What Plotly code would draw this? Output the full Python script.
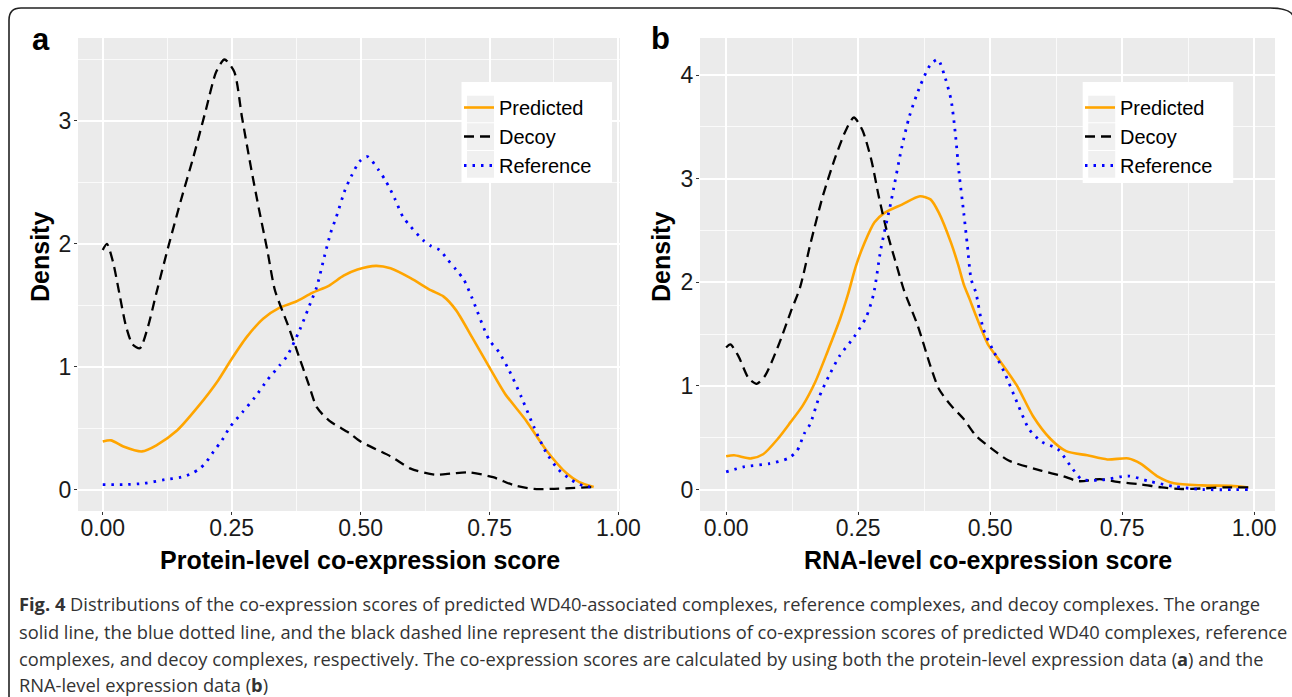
import plotly.graph_objects as go

# ---------------- data ----------------
a_pred_x = [0, 0.016, 0.04, 0.076, 0.104, 0.144, 0.184, 0.224, 0.248, 0.279, 0.311, 0.343, 0.375, 0.406, 0.439,
            0.467, 0.494, 0.53, 0.558, 0.597, 0.637, 0.661, 0.685, 0.716, 0.749, 0.78, 0.821, 0.86, 0.9, 0.924, 0.952]
a_pred_y = [0.39, 0.40, 0.35, 0.31, 0.36, 0.48, 0.67, 0.89, 1.05, 1.24, 1.39, 1.48, 1.53, 1.60, 1.66,
            1.74, 1.79, 1.82, 1.80, 1.72, 1.62, 1.57, 1.46, 1.24, 1.00, 0.78, 0.56, 0.32, 0.13, 0.06, 0.02]

a_decoy_x = [0, 0.008, 0.02, 0.032, 0.045, 0.058, 0.072, 0.088, 0.104, 0.128, 0.152, 0.176, 0.2, 0.22, 0.236,
             0.255, 0.27, 0.287, 0.303, 0.319, 0.334, 0.358, 0.374, 0.399, 0.415, 0.439, 0.478, 0.5, 0.558,
             0.597, 0.645, 0.677, 0.709, 0.757, 0.797, 0.836, 0.87, 0.952]
a_decoy_y = [1.95, 2.00, 1.85, 1.60, 1.33, 1.18, 1.15, 1.33, 1.60, 1.99, 2.36, 2.71, 3.09, 3.40, 3.50,
             3.40, 3.03, 2.63, 2.28, 1.95, 1.62, 1.35, 1.16, 0.86, 0.67, 0.56, 0.46, 0.39, 0.27,
             0.17, 0.12, 0.13, 0.14, 0.10, 0.035, 0.005, 0.005, 0.02]

a_ref_x = [0, 0.04, 0.08, 0.12, 0.152, 0.172, 0.188, 0.2, 0.215, 0.231, 0.247, 0.271, 0.295, 0.319, 0.343,
           0.358, 0.382, 0.403, 0.415, 0.43, 0.442, 0.453, 0.47, 0.482, 0.498, 0.513, 0.535, 0.549, 0.566,
           0.582, 0.597, 0.621, 0.637, 0.653, 0.669, 0.685, 0.7, 0.716, 0.749, 0.768, 0.788, 0.812, 0.836,
           0.86, 0.884, 0.908, 0.932, 0.952]
a_ref_y = [0.04, 0.04, 0.05, 0.08, 0.10, 0.13, 0.17, 0.22, 0.31, 0.40, 0.51, 0.63, 0.75, 0.89, 1.01,
           1.09, 1.30, 1.52, 1.65, 1.90, 2.09, 2.22, 2.44, 2.55, 2.67, 2.71, 2.60, 2.51, 2.37,
           2.22, 2.14, 2.03, 1.98, 1.95, 1.87, 1.79, 1.71, 1.56, 1.22, 1.12, 0.97, 0.75, 0.51,
           0.30, 0.16, 0.08, 0.03, 0.02]

b_pred_x = [0, 0.015, 0.047, 0.07, 0.098, 0.122, 0.145, 0.169, 0.192, 0.216, 0.23, 0.246, 0.262, 0.281, 0.3,
            0.333, 0.367, 0.387, 0.403, 0.426, 0.44, 0.45, 0.461, 0.473, 0.497, 0.52, 0.551, 0.581, 0.614,
            0.644, 0.684, 0.722, 0.762, 0.785, 0.816, 0.848, 0.902, 0.956, 0.989]
b_pred_y = [0.32, 0.33, 0.30, 0.34, 0.49, 0.65, 0.81, 1.04, 1.33, 1.65, 1.87, 2.16, 2.38, 2.58, 2.67,
            2.75, 2.83, 2.80, 2.67, 2.38, 2.16, 1.98, 1.84, 1.68, 1.39, 1.23, 1.00, 0.71, 0.49,
            0.37, 0.33, 0.29, 0.30, 0.25, 0.13, 0.06, 0.04, 0.035, 0.02]

b_decoy_x = [0, 0.008, 0.023, 0.043, 0.058, 0.074, 0.099, 0.122, 0.14, 0.16, 0.183, 0.207, 0.227, 0.242,
             0.258, 0.275, 0.289, 0.305, 0.323, 0.337, 0.363, 0.387, 0.403, 0.426, 0.45, 0.473, 0.504,
             0.535, 0.598, 0.637, 0.668, 0.708, 0.746, 0.785, 0.825, 0.863, 0.9, 0.942, 0.989]
b_decoy_y = [1.37, 1.40, 1.29, 1.07, 1.02, 1.10, 1.39, 1.71, 1.95, 2.38, 2.83, 3.21, 3.47, 3.59,
             3.47, 3.18, 2.83, 2.48, 2.16, 1.92, 1.58, 1.19, 0.97, 0.81, 0.68, 0.52, 0.39,
             0.28, 0.18, 0.13, 0.08, 0.10, 0.07, 0.05, 0.02, 0.005, 0.01, 0.02, 0.02]

b_ref_x = [0, 0.035, 0.082, 0.117, 0.134, 0.148, 0.159, 0.176, 0.195, 0.215, 0.242, 0.265, 0.279, 0.293,
           0.312, 0.333, 0.347, 0.367, 0.387, 0.401, 0.415, 0.426, 0.434, 0.441, 0.45, 0.457, 0.464, 0.473,
           0.487, 0.504, 0.527, 0.551, 0.574, 0.598, 0.628, 0.652, 0.673, 0.708, 0.762, 0.801, 0.848,
           0.902, 0.989]
b_ref_y = [0.17, 0.22, 0.25, 0.30, 0.37, 0.54, 0.63, 0.89, 1.10, 1.29, 1.47, 1.66, 1.88, 2.32,
           2.77, 3.31, 3.60, 3.89, 4.10, 4.15, 3.97, 3.76, 3.44, 3.06, 2.67, 2.35, 2.03, 1.90,
           1.55, 1.36, 1.13, 0.84, 0.58, 0.46, 0.39, 0.23, 0.10, 0.09, 0.13, 0.08, 0.03,
           0.0, 0.0]

series_names = ["Predicted", "Decoy", "Reference"]
x_tickvals = [0, 0.25, 0.5, 0.75, 1.0]
x_ticktext = ["0.00", "0.25", "0.50", "0.75", "1.00"]
a_yticks = [0, 1, 2, 3]
b_yticks = [0, 1, 2, 3, 4]
x_titles = ["Protein-level co-expression score", "RNA-level co-expression score"]
panel_labels = ["a", "b"]
caption_lines = [
    "<b>Fig. 4</b> Distributions of the co-expression scores of predicted WD40-associated complexes, reference complexes, and decoy complexes. The orange",
    "solid line, the blue dotted line, and the black dashed line represent the distributions of co-expression scores of predicted WD40 complexes, reference",
    "complexes, and decoy complexes, respectively. The co-expression scores are calculated by using both the protein-level expression data (<b>a</b>) and the",
    "RNA-level expression data (<b>b</b>)",
]

# ---------------- layout helpers ----------------
W, H = 1292, 697
def px(x):
    return x / W
def py(y):
    return 1 - y / H

styles = [
    dict(color="#FFA500", width=2.6, dash="solid"),
    dict(color="#000000", width=2.3, dash="10px,6px"),
    dict(color="#0000FF", width=2.8, dash="2.5px,6px"),
]

fig = go.Figure()
panels = [
    ([(a_pred_x, a_pred_y), (a_decoy_x, a_decoy_y), (a_ref_x, a_ref_y)], "x", "y", "legend"),
    ([(b_pred_x, b_pred_y), (b_decoy_x, b_decoy_y), (b_ref_x, b_ref_y)], "x2", "y2", "legend2"),
]
for series, xa, ya, lg in panels:
    for (xs, ys), name, st in zip(series, series_names, styles):
        fig.add_trace(go.Scatter(
            x=xs, y=ys, name=name, mode="lines", xaxis=xa, yaxis=ya, legend=lg,
            line=dict(color=st["color"], width=st["width"], dash=st["dash"], shape="spline", smoothing=0.7),
            hoverinfo="skip"))

tick_font = dict(family="Liberation Sans, Arial, sans-serif", size=23, color="#1a1a1a")
minor_x = dict(showgrid=True, gridcolor="#FAFAFA", gridwidth=0.8, tickvals=[0.125, 0.375, 0.625, 0.875])

y_top, y_bot = 38, 511
fig.update_layout(
    width=W, height=H, autosize=False, margin=dict(l=0, r=0, t=0, b=0, autoexpand=False),
    paper_bgcolor="white", plot_bgcolor="#EBEBEB",
    xaxis=dict(domain=[px(78), px(620)], anchor="y", range=[-0.048, 1.003],
               tickvals=x_tickvals, ticktext=x_ticktext, minor=minor_x, ticklabelstandoff=-7),
    yaxis=dict(domain=[py(y_bot), py(y_top)], anchor="x", range=[-0.175, 3.675],
               tickvals=a_yticks, ticktext=[str(v) for v in a_yticks], ticklabelstandoff=-2,
               minor=dict(showgrid=True, gridcolor="#FAFAFA", gridwidth=0.8, tickvals=[0.5, 1.5, 2.5, 3.5])),
    xaxis2=dict(domain=[px(700), px(1275)], anchor="y2", range=[-0.0495, 1.0395],
                tickvals=x_tickvals, ticktext=x_ticktext, minor=minor_x, ticklabelstandoff=-7),
    yaxis2=dict(domain=[py(y_bot), py(y_top)], anchor="x2", range=[-0.2075, 4.3575],
                tickvals=b_yticks, ticktext=[str(v) for v in b_yticks], ticklabelstandoff=-2,
                minor=dict(showgrid=True, gridcolor="#FAFAFA", gridwidth=0.8, tickvals=[0.5, 1.5, 2.5, 3.5])),
    showlegend=True,
)
for ax in ["xaxis", "yaxis", "xaxis2", "yaxis2"]:
    fig.layout[ax].update(
        showgrid=True, gridcolor="#FFFFFF", gridwidth=1.6, zeroline=False, showline=False,
        ticks="outside", ticklen=3, tickwidth=1, tickcolor="#333333", tickfont=tick_font)

leg_font = dict(family="Liberation Sans, Arial, sans-serif", size=20, color="#000000")
for key, lx in [("legend", 459), ("legend2", 1080)]:
    fig.layout[key] = dict(x=px(lx), y=py(88), xanchor="left", yanchor="top",
                           bgcolor="rgba(0,0,0,0)", borderwidth=0, font=leg_font,
                           itemwidth=30, tracegroupgap=0)

shapes = []
# legend boxes and grey key squares
for lx in [461.5, 1082.7]:
    shapes.append(dict(type="rect", xref="paper", yref="paper", x0=px(lx), x1=px(lx + 150.5),
                       y0=py(183), y1=py(82), fillcolor="white", line=dict(width=0), layer="above"))
    for r0, r1 in [(95.7, 122.3), (123.3, 150), (151, 177.7)]:
        shapes.append(dict(type="rect", xref="paper", yref="paper", x0=px(lx + 5.5), x1=px(lx + 32.5),
                           y0=py(r1), y1=py(r0), fillcolor="#F0F0F0", line=dict(width=0), layer="above"))
# outer rounded frame
r = 12
path = (f"M {px(9)},{py(740)} L {px(9)},{py(8 + r)} Q {px(9)},{py(8)} {px(9 + r)},{py(8)} "
        f"L {px(1282 - r)},{py(8)} Q {px(1294)},{py(8)} {px(1294)},{py(8 + r)} L {px(1294)},{py(740)}")
shapes.append(dict(type="path", xref="paper", yref="paper", path=path, line=dict(color="#222222", width=1.6)))
fig.update_layout(shapes=shapes)

ann = []
title_font = dict(family="Liberation Sans, Arial, sans-serif", size=25, color="#000000")
for txt, cx in zip(x_titles, [360, 988]):
    ann.append(dict(text=f"<b>{txt}</b>", x=px(cx), y=py(560), xref="paper", yref="paper",
                    showarrow=False, xanchor="center", yanchor="middle", font=title_font))
for cx in [40, 661]:
    ann.append(dict(text="<b>Density</b>", x=px(cx), y=py(257), xref="paper", yref="paper",
                    showarrow=False, xanchor="center", yanchor="middle", textangle=-90, font=title_font))
for lab, cx, cy in zip(panel_labels, [41, 660], [40, 39]):
    ann.append(dict(text=f"<b>{lab}</b>", x=px(cx), y=py(cy), xref="paper", yref="paper",
                    showarrow=False, xanchor="center", yanchor="middle",
                    font=dict(family="Liberation Sans, Arial, sans-serif", size=31, color="#000000")))
cap_font = dict(family="Open Sans, Noto Sans, sans-serif", size=18.3, color="#333333")
for line, cy in zip(caption_lines, [603, 631, 658, 684]):
    ann.append(dict(text=line, x=px(17), y=py(cy), xref="paper", yref="paper",
                    showarrow=False, xanchor="left", yanchor="middle", font=cap_font))
fig.update_layout(annotations=ann)

fig.write_html("out.html", config={"responsive": False})
